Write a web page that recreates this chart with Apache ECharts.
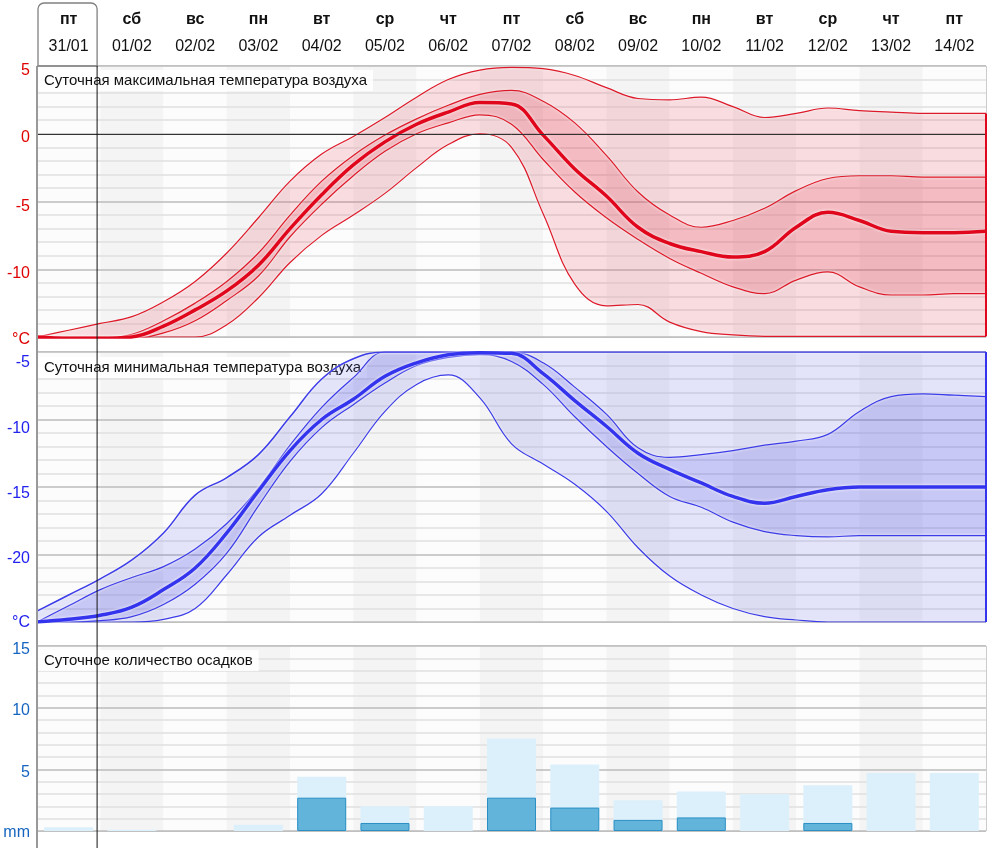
<!DOCTYPE html>
<html><head><meta charset="utf-8">
<script src="https://cdn.jsdelivr.net/npm/echarts/dist/echarts.min.js"></script>
<style>html,body{margin:0;padding:0;background:#fff}#c{width:1000px;height:848px}</style>
</head><body><div id="c"></div><script>
// ---------- data ----------
const dayNames = ['пт','сб','вс','пн','вт','ср','чт','пт','сб','вс','пн','вт','ср','чт','пт'];
const dates = ['31/01','01/02','02/02','03/02','04/02','05/02','06/02','07/02','08/02','09/02','10/02','11/02','12/02','13/02','14/02'];
// sample positions in days (every half day, 0 = start of 31/01)
const steps = [0,0.5,1,1.5,2,2.5,3,3.5,4,4.5,5,5.5,6,6.5,7,7.5,8,8.5,9,9.5,10,10.5,11,11.5,12,12.5,13,13.5,14,14.5,15];
const nowPos = 0.95;

// daily maximum temperature (°C)
const maxOuterHi = [-15,-14.5,-14.0,-13.5,-12.4,-10.9,-8.8,-6.2,-3.5,-1.5,-0.2,1.2,2.7,4.0,4.7,4.9,4.8,4.3,3.4,2.6,2.5,2.7,2.0,1.2,1.5,1.9,1.7,1.6,1.5,1.5,1.5];
const maxInnerHi = [-15,-15.05,-15.1,-14.8,-13.8,-12.5,-10.9,-8.8,-6.0,-3.5,-1.6,-0.1,1.1,2.1,2.9,3.2,2.4,0.8,-1.6,-4.3,-6.0,-6.9,-6.4,-5.5,-4.2,-3.3,-3.1,-3.1,-3.2,-3.2,-3.2];
const maxMedian  = [-15,-15.1,-15.1,-15.0,-14.2,-13.0,-11.6,-9.7,-7.0,-4.5,-2.3,-0.6,0.7,1.6,2.3,2.2,-0.1,-2.6,-4.6,-6.9,-8.1,-8.7,-9.1,-8.7,-6.9,-5.8,-6.4,-7.2,-7.3,-7.3,-7.2];
const maxInnerLo = [-15,-15.1,-15.1,-15.1,-14.7,-13.8,-12.3,-10.5,-7.6,-5.2,-3.1,-1.3,0.0,0.8,1.4,0.7,-1.9,-4.3,-6.2,-7.8,-9.2,-10.3,-11.3,-11.8,-10.8,-10.2,-11.3,-11.9,-11.9,-11.8,-11.8];
const maxOuterLo = [-15,-15,-15,-15,-15,-15,-14.1,-12.1,-9.5,-7.5,-6.0,-4.4,-2.5,-0.8,0.0,-1.0,-5.9,-11.1,-12.7,-12.6,-13.9,-14.6,-14.85,-14.95,-14.95,-14.95,-14.95,-14.95,-14.95,-14.95,-14.95];

// daily minimum temperature (°C)
const minOuterHi = [-24.2,-23.0,-21.8,-20.4,-18.4,-15.6,-14.3,-12.6,-9.8,-7.0,-5.5,-5.0,-5,-5,-5,-5,-5,-5,-5,-5,-5,-5,-5,-5,-5,-5,-5,-5,-5,-5,-5];
const minInnerHi = [-25,-23.8,-22.6,-21.7,-20.9,-19.6,-17.7,-15.1,-11.9,-9.1,-6.9,-5.0,-5.0,-5.0,-5.0,-5.0,-5.8,-7.6,-9.6,-12.1,-12.8,-12.6,-12.3,-11.9,-11.6,-11.1,-9.4,-8.3,-8.1,-8.2,-8.3];
const minMedian  = [-25.0,-24.8,-24.5,-23.9,-22.6,-21.0,-18.4,-15.3,-12.3,-10.0,-8.5,-6.8,-5.8,-5.2,-5.05,-5.1,-6.6,-8.6,-10.5,-12.5,-13.7,-14.7,-15.7,-16.2,-15.7,-15.2,-15.0,-15.0,-15.0,-15.0,-15.0];
const minInnerLo = [-25,-25,-24.9,-24.6,-23.7,-22.2,-19.9,-16.4,-13.1,-10.6,-8.9,-7.3,-6.0,-5.4,-5.2,-5.7,-7.4,-9.8,-12.0,-14.0,-15.7,-16.5,-17.6,-18.3,-18.6,-18.7,-18.6,-18.6,-18.6,-18.6,-18.6];
const minOuterLo = [-25,-25,-25,-25,-24.8,-24.0,-21.5,-18.7,-17.1,-15.5,-12.5,-9.4,-7.4,-6.7,-8.4,-11.8,-13.3,-14.8,-16.8,-19.5,-21.6,-23.0,-24.0,-24.6,-24.85,-25,-25,-25,-25,-25,-25];

// daily precipitation (mm)
const precipHi = [0.3,0.1,0,0.5,4.4,2.0,2.0,7.5,5.4,2.5,3.2,3.0,3.7,4.7,4.7];
const precipLo = [0,0,0,0,2.7,0.65,0,2.7,1.9,0.9,1.1,0,0.65,0,0];

const yTicksMax = {min:-15, max:5, step:5, unit:'°C'};
const yTicksMin = {min:-25, max:-5, step:5, unit:'°C'};
const yTicksPr  = {min:0, max:15, step:5, unit:'mm'};

// ---------- layout / style ----------
const FONT = '"Liberation Sans", Arial, sans-serif';
const L = 37, R = 14;
const G = [{top:66,height:271},{top:352,height:270},{top:646,height:185}];
const LAST = steps.length - 1;

const diff = (a,b) => a.map((v,i)=> +(v-b[i]).toFixed(3));
const SM = 0.4;

function band(xi, yi, stack, lo, ilo, ihi, hi, cOut, cIn){
  const base = {type:'line', xAxisIndex:xi, yAxisIndex:yi, stack, stackStrategy:'all', smooth:SM, symbol:'none',
    lineStyle:{opacity:0}, silent:true, z:2};
  return [
    Object.assign({}, base, {data:lo.slice()}),
    Object.assign({}, base, {data:diff(ilo,lo), areaStyle:{color:cOut, opacity:1}}),
    Object.assign({}, base, {data:diff(ihi,ilo), areaStyle:{color:cIn, opacity:1}}),
    Object.assign({}, base, {data:diff(hi,ihi), areaStyle:{color:cOut, opacity:1}})
  ];
}
function line(xi, yi, arr, color, width, z, extra){
  return Object.assign({type:'line', xAxisIndex:xi, yAxisIndex:yi, data:arr.slice(), smooth:SM, symbol:'none', silent:true, z,
    lineStyle:{color, width, shadowColor:'rgba(255,255,255,0.95)', shadowBlur:3}}, extra||{});
}
// per-label vertical offsets (px) mimic the reference label placement
function yAxis(gi, t, color, offs){
  const rich = {};
  offs.forEach((o,k)=>{ rich['o'+k] = {color, fontSize:16, fontFamily:FONT, padding:[2*o,0,0,0]}; });
  return {type:'value', gridIndex:gi, min:t.min, max:t.max, interval:t.step, z:1,
    axisLine:{show:false}, axisTick:{show:false},
    axisLabel:{color, fontSize:16, fontFamily:FONT, margin:7,
      formatter:v=>{ const k = Math.round((t.max - v)/t.step); return '{o'+k+'|'+(v===t.min ? t.unit : String(v))+'}'; },
      rich},
    splitLine:{show:true, lineStyle:{color:'#bdbdbd', width:1.5}},
    minorTick:{show:false, splitNumber:5},
    minorSplitLine:{show:true, lineStyle:{color:'#e0e0e0', width:1.5}}};
}
const splitArea = {show:true, areaStyle:{color:['#fcfcfc','#f4f4f4']}};
function catAxis(gi, header){
  return {type:'category', gridIndex:gi, data:dates, boundaryGap:true, position: header?'top':'bottom', z:0,
    axisLine:{show:false}, axisTick:{show:false}, splitLine:{show:false}, splitArea,
    axisLabel: header ? {show:true, interval:0, margin:6,
      formatter:(v,i)=>'{d|'+dayNames[i]+'}\n{t|'+v+'}',
      rich:{d:{fontSize:16, fontWeight:'bold', fontFamily:FONT, color:'#111', lineHeight:27},
            t:{fontSize:16, fontFamily:FONT, color:'#111', lineHeight:27}}} : {show:false}};
}
function stepAxis(gi){ return {type:'category', gridIndex:gi, data:steps.map(String), boundaryGap:false, show:false}; }

const RED='#e0061c', REDT='#dd1a2a', BLUE='#3434ee', BLUET='#3c3ce8';

const series = [].concat(
  band(1,0,'mx', maxOuterLo, maxInnerLo, maxInnerHi, maxOuterHi, 'rgba(225,40,60,0.15)', 'rgba(225,40,60,0.30)'),
  [
    line(1,0,maxOuterLo,REDT,1.2,3,{markLine:{silent:true, symbol:'none', label:{show:false},
      lineStyle:{color:'#333', width:1, type:'solid'}, data:[{yAxis:0}]}}),
    line(1,0,maxInnerLo,REDT,1.2,3),
    line(1,0,maxInnerHi,REDT,1.2,3),
    line(1,0,maxOuterHi,REDT,1.2,3,{markLine:{silent:true, symbol:'none', label:{show:false},
      lineStyle:{color:RED, width:2, type:'solid'},
      data:[[{coord:[LAST, maxOuterLo[LAST]]},{coord:[LAST, maxOuterHi[LAST]]}]]}}),
    line(1,0,maxMedian,RED,3.5,4)
  ],
  band(3,1,'mn', minOuterLo, minInnerLo, minInnerHi, minOuterHi, 'rgba(60,60,230,0.13)', 'rgba(60,60,230,0.27)'),
  [
    line(3,1,minOuterLo,BLUET,1.2,3),
    line(3,1,minInnerLo,BLUET,1.2,3),
    line(3,1,minInnerHi,BLUET,1.2,3),
    line(3,1,minOuterHi,BLUET,1.5,3,{markLine:{silent:true, symbol:'none', label:{show:false},
      lineStyle:{color:BLUE, width:2, type:'solid'},
      data:[[{coord:[LAST, minOuterLo[LAST]]},{coord:[LAST, minOuterHi[LAST]]}]]}}),
    line(3,1,minMedian,BLUE,3.5,4)
  ],
  [
    {type:'bar', xAxisIndex:4, yAxisIndex:2, data:precipHi, barWidth:49, silent:true,
      itemStyle:{color:'#dcf0fb'}, z:2},
    {type:'bar', xAxisIndex:4, yAxisIndex:2, data:precipLo.map(v=>v>0?v:'-'), barWidth:49, barGap:'-100%', silent:true,
      itemStyle:{color:'#62b4da', borderColor:'#2b8fc4', borderWidth:1}, z:3}
  ]
);

const chart = echarts.init(document.getElementById('c'), null, {renderer:'canvas'});
const titleStyle = {fontSize:15, fontWeight:'normal', color:'#111', fontFamily:FONT};
const tBg = 'rgba(255,255,255,0.85)';
chart.setOption({
  animation:false,
  backgroundColor:'#fff',
  title:[
    {text:'Суточная максимальная температура воздуха', left:38, top:70, padding:[3,6], backgroundColor:tBg, textStyle:titleStyle, z:1.5},
    {text:'Суточная минимальная температура воздуха', left:38, top:357, padding:[3,6], backgroundColor:tBg, textStyle:titleStyle, z:1.5},
    {text:'Суточное количество осадков', left:38, top:650, padding:[3,6], backgroundColor:tBg, textStyle:titleStyle, z:1.5}
  ],
  grid: G.map(g=>({left:L, right:R, top:g.top, height:g.height, show:true, borderColor:'#9a9a9a', borderWidth:1, backgroundColor:'transparent', containLabel:false})),
  xAxis:[catAxis(0,true), stepAxis(0), catAxis(1,false), stepAxis(1), catAxis(2,false)],
  yAxis:[yAxis(0,yTicksMax,'#e00000',[5,4,5,4,3]), yAxis(1,yTicksMin,'#2222ee',[11,9,7,4,1]), yAxis(2,yTicksPr,'#1565c0',[4,3,3,2])],
  series
});

const p0 = chart.convertToPixel({xAxisIndex:1}, 0);
const pN = chart.convertToPixel({xAxisIndex:1}, LAST);
const nowX = p0 + (pN - p0) * nowPos / steps[LAST];
chart.setOption({graphic:[
  {type:'line', z:100, shape:{x1:L, y1:G[0].top, x2:L, y2:848}, style:{stroke:'#999', lineWidth:2}},
  {type:'rect', z:100, shape:{x:L+1, y:3, width:nowX-L-1, height:G[0].top-3, r:[6,6,0,0]}, style:{fill:'none', stroke:'#808080', lineWidth:1.3}},
  {type:'line', z:100, shape:{x1:nowX, y1:G[0].top, x2:nowX, y2:848}, style:{stroke:'#111', lineWidth:1}}
]});
</script></body></html>
